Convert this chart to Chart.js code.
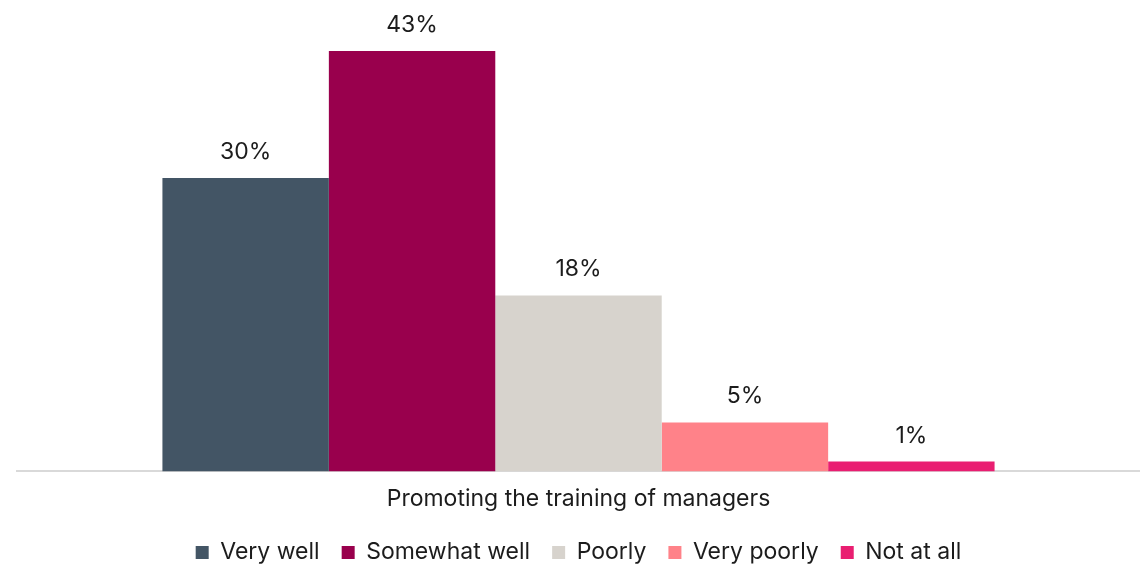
<!DOCTYPE html>
<html lang="en">
<head>
  <meta charset="UTF-8">
  <title>Promoting the training of managers</title>
  <script src="https://cdn.jsdelivr.net/npm/chart.js"></script>
  <style>
    html, body { margin: 0; padding: 0; background: #fff; }
    .chart-box { width: 1140px; height: 564px; }
  </style>
</head>
<body>
<div class="chart-box">
  <canvas id="trainingChart"></canvas>
</div>

<script>
  // survey answers, one bar per answer
  const categories = ["Promoting the training of managers"];
  const answers = ["Very well", "Somewhat well", "Poorly", "Very poorly", "Not at all"];
  const shares = [30, 43, 18, 5, 1];
  const colors = ["#435565", "#99004D", "#D7D3CD", "#FF8289", "#E91E71"];

  const textColor = "#1c1c1c";
  const fontFamily = "Inter, 'Noto Sans', sans-serif";
  const fontSize = 23;

  // writes the percentage above each bar
  const valueLabels = {
    id: "valueLabels",
    afterDatasetsDraw(chart) {
      const ctx = chart.ctx;
      ctx.save();
      ctx.font = fontSize + "px " + fontFamily;
      ctx.fillStyle = textColor;
      ctx.textAlign = "center";
      ctx.textBaseline = "middle";
      chart.data.datasets.forEach((ds, i) => {
        chart.getDatasetMeta(i).data.forEach((bar, j) => {
          ctx.fillText(ds.data[j] + "%", bar.x, bar.y - 26);
        });
      });
      ctx.restore();
    }
  };

  document.addEventListener("DOMContentLoaded", function () {
    const ctx = document.getElementById("trainingChart").getContext("2d");

    new Chart(ctx, {
      type: "bar",
      data: {
        labels: categories,
        datasets: answers.map((name, i) => ({
          label: name,
          data: [shares[i]],
          backgroundColor: colors[i],
          borderWidth: 0
        }))
      },
      options: {
        responsive: true,
        maintainAspectRatio: false,
        animation: false,
        layout: { padding: { left: 17, right: 0, top: 51, bottom: -10 } },
        datasets: {
          bar: { categoryPercentage: 0.741, barPercentage: 1.0 }
        },
        scales: {
          x: {
            grid: { display: false },
            border: { color: "#d9d9d9", width: 2 },
            ticks: {
              color: textColor,
              font: { family: fontFamily, size: fontSize },
              padding: 6
            }
          },
          y: {
            display: false,
            min: 0,
            max: 43
          }
        },
        plugins: {
          legend: {
            position: "bottom",
            labels: {
              color: textColor,
              font: { family: fontFamily, size: fontSize },
              boxWidth: 13,
              boxHeight: 13,
              padding: 22
            }
          },
          tooltip: { enabled: false }
        }
      },
      plugins: [valueLabels]
    });
  });
</script>
</body>
</html>
